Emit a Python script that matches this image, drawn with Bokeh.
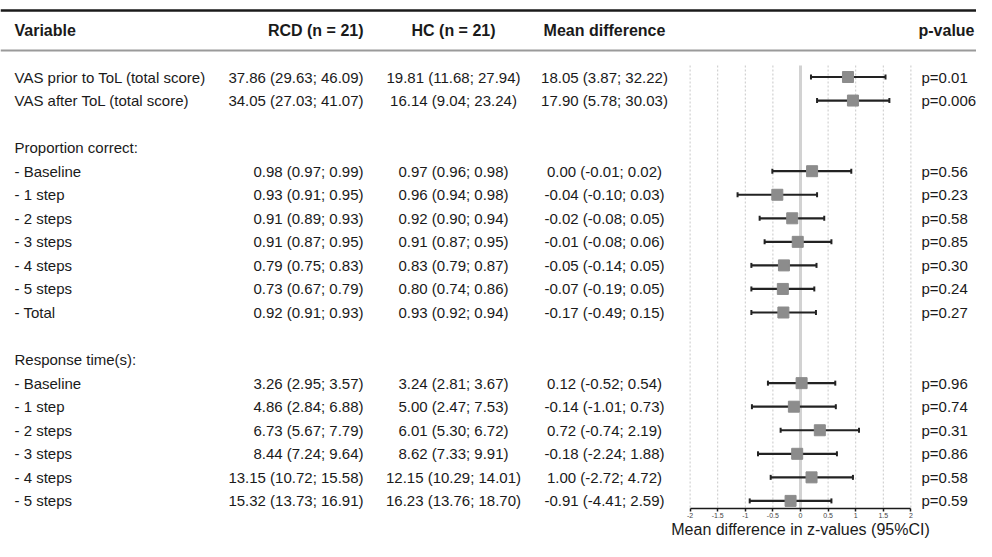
from bokeh.plotting import figure
from bokeh.models import Range1d, LinearAxis, FixedTicker, CustomJSTickFormatter, ColumnDataSource
from bokeh.core.properties import value
from bokeh.embed import file_html
from bokeh.resources import INLINE

# ---------------- data ----------------
variables = ["VAS prior to ToL (total score)", "VAS after ToL (total score)", "",
             "Proportion correct:", "- Baseline", "- 1 step", "- 2 steps", "- 3 steps",
             "- 4 steps", "- 5 steps", "- Total", "",
             "Response time(s):", "- Baseline", "- 1 step", "- 2 steps", "- 3 steps",
             "- 4 steps", "- 5 steps"]
rcd = ["37.86 (29.63; 46.09)", "34.05 (27.03; 41.07)", "", "",
       "0.98 (0.97; 0.99)", "0.93 (0.91; 0.95)", "0.91 (0.89; 0.93)", "0.91 (0.87; 0.95)",
       "0.79 (0.75; 0.83)", "0.73 (0.67; 0.79)", "0.92 (0.91; 0.93)", "", "",
       "3.26 (2.95; 3.57)", "4.86 (2.84; 6.88)", "6.73 (5.67; 7.79)", "8.44 (7.24; 9.64)",
       "13.15 (10.72; 15.58)", "15.32 (13.73; 16.91)"]
hc = ["19.81 (11.68; 27.94)", "16.14 (9.04; 23.24)", "", "",
      "0.97 (0.96; 0.98)", "0.96 (0.94; 0.98)", "0.92 (0.90; 0.94)", "0.91 (0.87; 0.95)",
      "0.83 (0.79; 0.87)", "0.80 (0.74; 0.86)", "0.93 (0.92; 0.94)", "", "",
      "3.24 (2.81; 3.67)", "5.00 (2.47; 7.53)", "6.01 (5.30; 6.72)", "8.62 (7.33; 9.91)",
      "12.15 (10.29; 14.01)", "16.23 (13.76; 18.70)"]
mean_diff = ["18.05 (3.87; 32.22)", "17.90 (5.78; 30.03)", "", "",
             "0.00 (-0.01; 0.02)", "-0.04 (-0.10; 0.03)", "-0.02 (-0.08; 0.05)", "-0.01 (-0.08; 0.06)",
             "-0.05 (-0.14; 0.05)", "-0.07 (-0.19; 0.05)", "-0.17 (-0.49; 0.15)", "", "",
             "0.12 (-0.52; 0.54)", "-0.14 (-1.01; 0.73)", "0.72 (-0.74; 2.19)", "-0.18 (-2.24; 1.88)",
             "1.00 (-2.72; 4.72)", "-0.91 (-4.41; 2.59)"]
p_values = ["p=0.01", "p=0.006", "", "",
            "p=0.56", "p=0.23", "p=0.58", "p=0.85", "p=0.30", "p=0.24", "p=0.27", "", "",
            "p=0.96", "p=0.74", "p=0.31", "p=0.86", "p=0.58", "p=0.59"]

# forest plot: row index, estimate, lower, upper (z-values)
forest_rows = [0, 1, 4, 5, 6, 7, 8, 9, 10, 13, 14, 15, 16, 17, 18]
z_est = [0.86, 0.95, 0.21, -0.42, -0.15, -0.05, -0.30, -0.32, -0.31, 0.02, -0.12, 0.35, -0.06, 0.20, -0.18]
z_lo = [0.19, 0.30, -0.51, -1.14, -0.74, -0.65, -0.89, -0.89, -0.89, -0.59, -0.88, -0.36, -0.77, -0.54, -0.92]
z_hi = [1.54, 1.61, 0.92, 0.30, 0.43, 0.56, 0.29, 0.25, 0.28, 0.63, 0.64, 1.06, 0.66, 0.95, 0.56]

tick_values = [-2, -1.5, -1, -0.5, 0, 0.5, 1, 1.5, 2]
grid_values = [-2, -1.5, -1, -0.5, 0.5, 1, 1.5, 2]

headers = ["Variable", "RCD (n = 21)", "HC (n = 21)", "Mean difference", "p-value"]

# ---------------- layout ----------------
W, H = 976, 541
ROW0, ROWH = 76.5, 23.55
def row_y(i):
    return ROW0 + ROWH * i

Z0, ZU = 800.0, 55.2  # pixel x of z=0, pixels per z unit
AXIS_Y = 508

FONT = "Liberation Sans"
TXT = "#1a1a1a"

p = figure(width=W, height=H, output_backend="svg", toolbar_location=None,
           x_range=Range1d(0, W), y_range=Range1d(H, 0),
           x_axis_type=None, y_axis_type=None, min_border=0,
           background_fill_color="white", border_fill_color="white")
p.outline_line_color = None
p.extra_x_ranges = {"z": Range1d(-Z0 / ZU, (W - Z0) / ZU)}

# horizontal rules
p.segment(x0=[0], x1=[W], y0=[10], y1=[10], line_color="#1a1a1a", line_width=2.5)
p.segment(x0=[0], x1=[W], y0=[50], y1=[50], line_color="#9a9a9a", line_width=2)

# header texts
hx = [14, 363, 453, 604, 974]
halign = ["left", "right", "center", "center", "right"]
p.text(x=hx, y=[30] * 5, text=headers, text_align=halign, text_baseline="middle",
       text_font=value(FONT), text_font_style="bold", text_font_size="16px", text_color=TXT)

ys = [row_y(i) for i in range(len(variables))]
src = ColumnDataSource(dict(y=ys, var=variables, rcd=rcd, hc=hc, md=mean_diff, pv=p_values))
common = dict(y="y", text_baseline="middle", text_font=value(FONT), text_font_size="15px",
              text_color=TXT, source=src)
p.text(x=14, text="var", text_align="left", **common)
p.text(x=363, text="rcd", text_align="right", **common)
p.text(x=453, text="hc", text_align="center", **common)
p.text(x=604, text="md", text_align="center", **common)
p.text(x=921, text="pv", text_align="left", **common)

# forest plot grid
top_y = 65
p.segment(x0=grid_values, x1=grid_values, y0=[top_y] * len(grid_values), y1=[AXIS_Y] * len(grid_values),
          x_range_name="z", line_color="#c8c8c8", line_width=1, line_dash="2 2")
p.segment(x0=[0], x1=[0], y0=[top_y], y1=[AXIS_Y], x_range_name="z",
          line_color="#d2d2d2", line_width=3)

fy = [row_y(i) for i in forest_rows]
fsrc = ColumnDataSource(dict(y=fy, est=z_est, lo=z_lo, hi=z_hi,
                             ytop=[v - 2.5 for v in fy], ybot=[v + 2.5 for v in fy]))
p.segment(x0="lo", x1="hi", y0="y", y1="y", source=fsrc, x_range_name="z",
          line_color="#222222", line_width=2.2)
p.segment(x0="lo", x1="lo", y0="ytop", y1="ybot", source=fsrc, x_range_name="z",
          line_color="#222222", line_width=2)
p.segment(x0="hi", x1="hi", y0="ytop", y1="ybot", source=fsrc, x_range_name="z",
          line_color="#222222", line_width=2)
p.scatter(x="est", y="y", source=fsrc, x_range_name="z", marker="square", size=11,
          fill_color="#8c8c8c", line_color="#8c8c8c")

# axis
ax = LinearAxis(x_range_name="z", fixed_location=AXIS_Y, bounds=(-2, 2),
                ticker=FixedTicker(ticks=tick_values),
                formatter=CustomJSTickFormatter(code="return tick.toString()"),
                axis_label="Mean difference in z-values (95%CI)")
ax.axis_line_color = "#1a1a1a"
ax.axis_line_width = 1.5
ax.major_tick_line_color = "#1a1a1a"
ax.major_tick_line_width = 1.5
ax.major_tick_out = 3
ax.major_tick_in = 0
ax.minor_tick_out = 0
ax.minor_tick_in = 0
ax.major_label_standoff = 1
ax.major_label_text_font = FONT
ax.major_label_text_font_size = "7px"
ax.major_label_text_color = "#444444"
ax.axis_label_standoff = 0
ax.axis_label_text_font = FONT
ax.axis_label_text_font_size = "16px"
ax.axis_label_text_font_style = "normal"
ax.axis_label_text_color = TXT
p.add_layout(ax, "below")

open("out.html", "w").write(file_html(p, INLINE))
